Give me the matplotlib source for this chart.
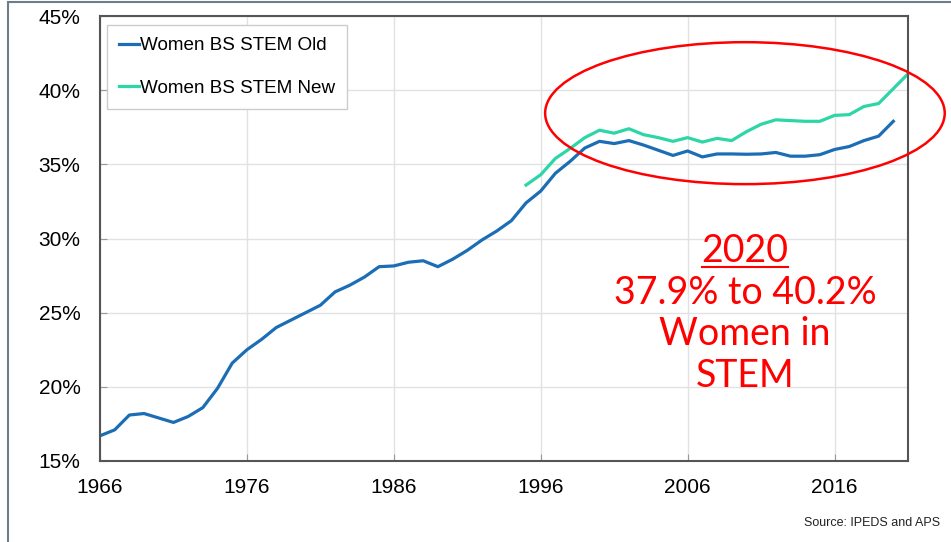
import matplotlib
matplotlib.use("Agg")
from matplotlib import pyplot as plt
from matplotlib.patches import Ellipse, Rectangle
from matplotlib.ticker import FuncFormatter

years_old = list(range(1966, 2021))
stem_old = [16.7, 17.1, 18.1, 18.2, 17.9, 17.6, 18.0, 18.6, 19.9, 21.6,
            22.5, 23.2, 24.0, 24.5, 25.0, 25.5, 26.4, 26.85, 27.4, 28.1,
            28.15, 28.4, 28.5, 28.1, 28.6, 29.2, 29.9, 30.5, 31.2, 32.4,
            33.2, 34.4, 35.2, 36.1, 36.55, 36.4, 36.6, 36.3, 35.95, 35.6,
            35.9, 35.5, 35.7, 35.7, 35.68, 35.7, 35.8, 35.55, 35.55, 35.65,
            36.0, 36.2, 36.6, 36.9, 37.9]

years_new = list(range(1995, 2022))
stem_new = [33.6, 34.3, 35.4, 36.07, 36.8, 37.3, 37.1, 37.4, 37.0, 36.8,
            36.55, 36.8, 36.5, 36.75, 36.6, 37.2, 37.7, 38.0, 37.95, 37.9,
            37.9, 38.3, 38.35, 38.9, 39.1, 40.1, 41.1]

x_ticks = [1966, 1976, 1986, 1996, 2006, 2016]
y_ticks = [15, 20, 25, 30, 35, 40, 45]

plt.rcParams['font.family'] = ['Liberation Sans', 'DejaVu Sans']

fig = plt.figure(figsize=(9.51, 5.42), dpi=100)
ax = fig.add_axes([100 / 951, 81 / 542, 808 / 951, 445 / 542])

ax.plot(years_old, stem_old, color='#1b6db5', lw=2.3, label='Women BS STEM Old')
ax.plot(years_new, stem_new, color='#2cd6a6', lw=2.3, label='Women BS STEM New')

ax.set_xlim(1966, 2021)
ax.set_ylim(15, 45)
ax.set_xticks(x_ticks)
ax.set_yticks(y_ticks)
ax.yaxis.set_major_formatter(FuncFormatter(lambda v, p: f'{v:.0f}%'))
ax.grid(True, color='#e2e2e2', lw=1)
ax.set_axisbelow(True)
ax.tick_params(axis='both', direction='in', length=5, color='#999999', labelsize=15)
ax.tick_params(axis='x', pad=12)
ax.tick_params(axis='y', pad=14)
for s in ax.spines.values():
    s.set_color('#555555')
    s.set_linewidth(1.5)

leg = ax.legend(loc='upper left', fontsize=13.6, handlelength=1.05, handletextpad=0.05,
                labelspacing=1.32, borderpad=0.65, borderaxespad=0, fancybox=False,
                framealpha=1, edgecolor='#cccccc', bbox_to_anchor=(7 / 808, 1 - 9 / 445))
leg.get_frame().set_linewidth(1)

# red highlight
ax.add_patch(Ellipse((2009.9, 38.45), 27.2, 9.57, fill=False, edgecolor='#ff0000',
                     lw=1.8, clip_on=False, zorder=5))
ax.text(2009.9, 24.94, '2020\n37.9% to 40.2%\nWomen in\nSTEM', color='#ff0000',
        fontsize=27, family='Lato', ha='center', va='center', linespacing=1.2)
ax.plot([2006.95, 2012.8], [28.07, 28.07], color='#ff0000', lw=1.5)

fig.text(940 / 951, 1 - 523 / 542, 'Source: IPEDS and APS', fontsize=9,
         ha='right', va='center', color='#222222')

fig.add_artist(Rectangle((8 / 951, -0.1), 1.2, 1.1 - 2 / 542, transform=fig.transFigure,
                         fill=False, edgecolor='#6f7c8a', lw=1.5))

fig.savefig('out.png', dpi=100)
